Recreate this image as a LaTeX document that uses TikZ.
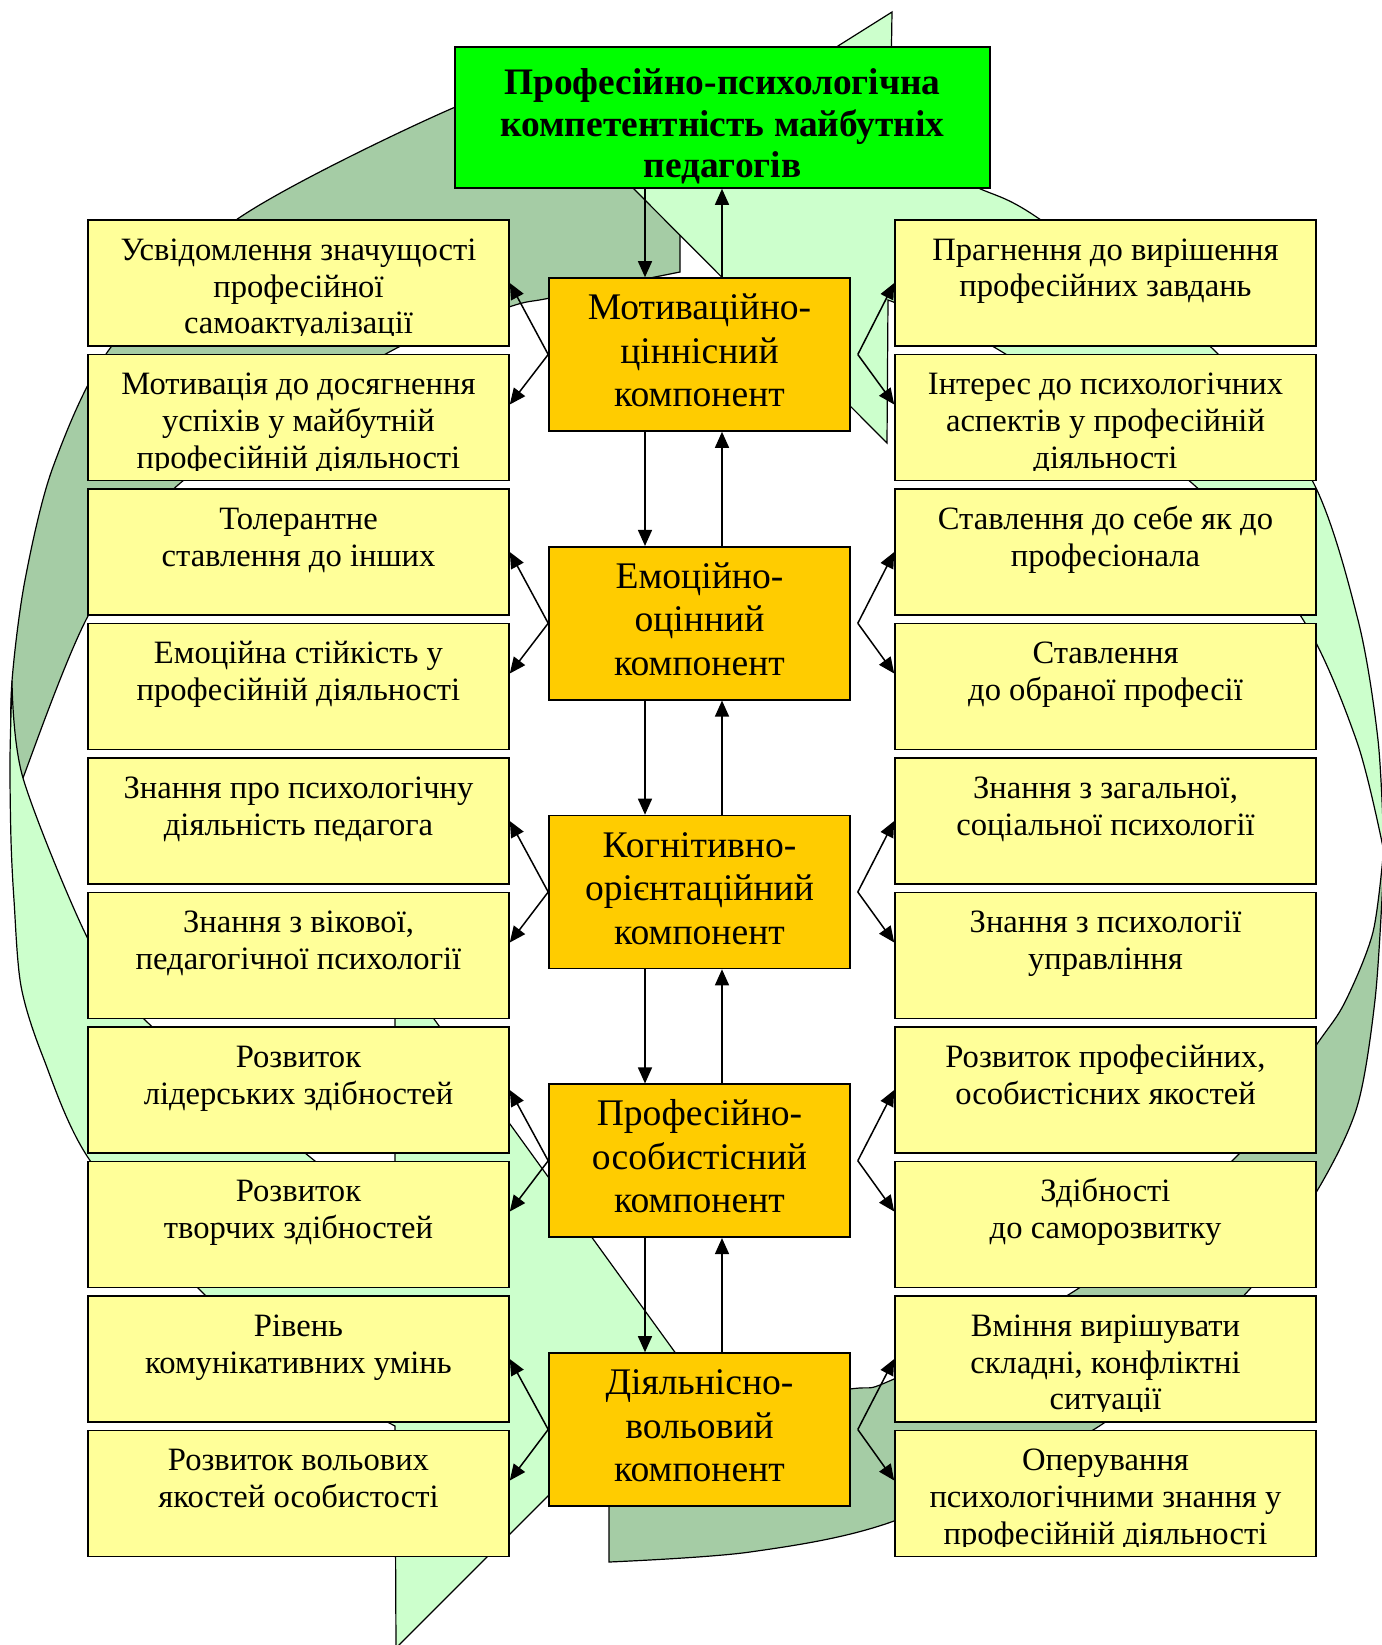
\documentclass[tikz,border=0pt]{standalone}
\usepackage{fontspec}
\setmainfont{Liberation Serif}
\usetikzlibrary{calc,arrows.meta}
\definecolor{ltg}{HTML}{CCFFCC}
\definecolor{dkg}{HTML}{A5CCA5}
\definecolor{topg}{HTML}{00FF00}
\definecolor{cbx}{HTML}{FFCC00}
\definecolor{sbx}{HTML}{FFFF99}
\tikzset{
 sidebox/.style={draw=black, line width=0.8pt, fill=sbx, minimum width=210.5pt, minimum height=63pt, inner sep=0pt},
 cenbox/.style={draw=black, line width=0.8pt, fill=cbx, minimum width=150.5pt, minimum height=76.5pt, inner sep=0pt, align=center, font=\fontsize{18.8}{21.75}\selectfont},
 topbox/.style={draw=black, line width=0.8pt, fill=topg, minimum width=267.5pt, minimum height=70.5pt, inner sep=0pt},
 sidetext/.style={inner sep=0pt, align=center, anchor=north, font=\fontsize{16.3}{18.35}\selectfont},
 toptext/.style={inner sep=0pt, align=center, font=\bfseries\fontsize{18.7}{20.75}\selectfont},
 conn/.style={line width=0.75pt, -{Triangle[length=8pt,width=7pt]}},
 bgdark/.style={fill=dkg, draw=black, line width=0.6pt},
 bglight/.style={fill=ltg, draw=black, line width=0.6pt},
}
\begin{document}
\begin{tikzpicture}[x=0.5pt, y=-0.5pt]
\useasboundingbox (0,0) rectangle (1382,1645);
% background curved arrows
\begin{scope}
\clip (0,0) rectangle (1382,1645);
\filldraw[bgdark] (680,68) -- plot[smooth] coordinates {(680,68) (560,80) (453,108) (236,220) (111,347) (53,467) (25,580) (12,681) (11,760) (14,812)}
  -- plot[smooth] coordinates {(14,812) (23,778) (88,616) (178,485) (393,350) (509,307) (550,298) (680,272)} -- cycle;
\filldraw[bglight] (12,681) -- plot[smooth] coordinates {(12,681) (10,760) (11,840) (14,900) (21,986) (43,1057) (89,1159) (200,1290) (300,1372) (395,1426)}
  -- (396,1648) -- (682,1362) -- (395,965) -- (395,1222)
  -- plot[smooth] coordinates {(395,1222) (310,1157) (145,1020) (88,939) (23,778) (12,681)} -- cycle;
\filldraw[bgdark] (1384,846) -- plot[smooth] coordinates {(1384,846) (1383,880) (1375,1000) (1357,1107) (1317,1191) (1249,1290) (1101,1425) (894,1521) (750,1552) (609,1562)}
  -- (609,1412) -- plot[smooth] coordinates {(609,1412) (700,1405) (850,1389) (894,1379) (1076,1290) (1237,1156) (1317,1044) (1345,1002) (1373,932) (1384,846)} -- cycle;
\filldraw[bglight] (892,12) -- (890,145) -- plot[smooth] coordinates {(890,145) (974,186) (1038,218) (1214,350) (1312,480) (1358,620) (1378,740) (1384,852)}
  -- plot[smooth] coordinates {(1384,852) (1357,742) (1302,618) (1193,484) (999,350) (888,300)} -- (887,443) -- (625,180) -- cycle;
\end{scope}
% top box
\node[topbox] (top) at (722.5,117.5) {};
\node[toptext] (toptx) at (722.5,128) {\strut Професійно-психологічна\\компетентність майбутніх\\педагогів\strut};
% centre boxes
\node[cenbox] (c0) at (699.5,354.5) {\strut Мотиваційно-\\ціннісний\\компонент\strut};
\node[cenbox] (c1) at (699.5,623.25) {\strut Емоційно-\\оцінний\\компонент\strut};
\node[cenbox] (c2) at (699.5,892) {\strut Когнітивно-\\орієнтаційний\\компонент\strut};
\node[cenbox] (c3) at (699.5,1160.75) {\strut Професійно-\\особистісний\\компонент\strut};
\node[cenbox] (c4) at (699.5,1429.5) {\strut Діяльнісно-\\вольовий\\компонент\strut};
% left boxes
\node[sidebox] (l0) at (298.5,283) {};
\node[sidebox] (l1) at (298.5,417.5) {};
\node[sidebox] (l2) at (298.5,552) {};
\node[sidebox] (l3) at (298.5,686.5) {};
\node[sidebox] (l4) at (298.5,821) {};
\node[sidebox] (l5) at (298.5,955.5) {};
\node[sidebox] (l6) at (298.5,1090) {};
\node[sidebox] (l7) at (298.5,1224.5) {};
\node[sidebox] (l8) at (298.5,1359) {};
\node[sidebox] (l9) at (298.5,1493.5) {};
% right boxes
\node[sidebox] (r0) at (1105.5,283) {};
\node[sidebox] (r1) at (1105.5,417.5) {};
\node[sidebox] (r2) at (1105.5,552) {};
\node[sidebox] (r3) at (1105.5,686.5) {};
\node[sidebox] (r4) at (1105.5,821) {};
\node[sidebox] (r5) at (1105.5,955.5) {};
\node[sidebox] (r6) at (1105.5,1090) {};
\node[sidebox] (r7) at (1105.5,1224.5) {};
\node[sidebox] (r8) at (1105.5,1359) {};
\node[sidebox] (r9) at (1105.5,1493.5) {};
% left texts
\begin{scope}
\clip (l0.north west) rectangle ($(l0.south east)+(0,-11)$);
\node[sidetext] (l0t) at ($(l0.north)+(0,15)$) {\strut Усвідомлення значущості\\професійної\\самоактуалізації\strut};
\end{scope}
\begin{scope}
\clip (l1.north west) rectangle ($(l1.south east)+(0,-11)$);
\node[sidetext] (l1t) at ($(l1.north)+(0,15)$) {\strut Мотивація до досягнення\\успіхів у майбутній\\професійній діяльності\strut};
\end{scope}
\node[sidetext] (l2t) at ($(l2.north)+(0,15)$) {\strut Толерантне\\ставлення до інших\strut};
\node[sidetext] (l3t) at ($(l3.north)+(0,15)$) {\strut Емоційна стійкість у\\професійній діяльності\strut};
\node[sidetext] (l4t) at ($(l4.north)+(0,15)$) {\strut Знання про психологічну\\діяльність педагога\strut};
\node[sidetext] (l5t) at ($(l5.north)+(0,15)$) {\strut Знання з вікової,\\педагогічної психології\strut};
\node[sidetext] (l6t) at ($(l6.north)+(0,15)$) {\strut Розвиток\\лідерських здібностей\strut};
\node[sidetext] (l7t) at ($(l7.north)+(0,15)$) {\strut Розвиток\\творчих здібностей\strut};
\node[sidetext] (l8t) at ($(l8.north)+(0,15)$) {\strut Рівень\\комунікативних умінь\strut};
\node[sidetext] (l9t) at ($(l9.north)+(0,15)$) {\strut Розвиток вольових\\якостей особистості\strut};
% right texts
\node[sidetext] (r0t) at ($(r0.north)+(0,15)$) {\strut Прагнення до вирішення\\професійних завдань\strut};
\begin{scope}
\clip (r1.north west) rectangle ($(r1.south east)+(0,-11)$);
\node[sidetext] (r1t) at ($(r1.north)+(0,15)$) {\strut Інтерес до психологічних\\аспектів у професійній\\діяльності\strut};
\end{scope}
\node[sidetext] (r2t) at ($(r2.north)+(0,15)$) {\strut Ставлення до себе як до\\професіонала\strut};
\node[sidetext] (r3t) at ($(r3.north)+(0,15)$) {\strut Ставлення\\до обраної професії\strut};
\node[sidetext] (r4t) at ($(r4.north)+(0,15)$) {\strut Знання з загальної,\\соціальної психології\strut};
\node[sidetext] (r5t) at ($(r5.north)+(0,15)$) {\strut Знання з психології\\управління\strut};
\node[sidetext] (r6t) at ($(r6.north)+(0,15)$) {\strut Розвиток професійних,\\особистісних якостей\strut};
\node[sidetext] (r7t) at ($(r7.north)+(0,15)$) {\strut Здібності\\до саморозвитку\strut};
\begin{scope}
\clip (r8.north west) rectangle ($(r8.south east)+(0,-11)$);
\node[sidetext] (r8t) at ($(r8.north)+(0,15)$) {\strut Вміння вирішувати\\складні, конфліктні\\ситуації\strut};
\end{scope}
\begin{scope}
\clip (r9.north west) rectangle ($(r9.south east)+(0,-11)$);
\node[sidetext] (r9t) at ($(r9.north)+(0,15)$) {\strut Оперування\\психологічними знання у\\професійній діяльності\strut};
\end{scope}
% vertical connectors
\coordinate (xd) at (645,0);
\coordinate (xu) at (722,0);
\draw[conn] (top.south -| xd) -- (c0.north -| xd);
\draw[conn] (c0.north -| xu) -- (top.south -| xu);
\foreach \k [evaluate=\k as \kn using int(\k+1)] in {0,...,3}{
  \draw[conn] (c\k.south -| xd) -- (c\kn.north -| xd);
  \draw[conn] (c\kn.north -| xu) -- (c\k.south -| xu);
}
% side connectors
\foreach \k [evaluate=\k as \ja using int(2*\k), evaluate=\k as \jb using int(2*\k+1)] in {0,...,4}{
  \draw[conn] (c\k.west) -- (l\ja.east);
  \draw[conn] (c\k.west) -- ($(l\jb.east)+(0,-13)$);
  \draw[conn] ($(c\k.east)+(7,0)$) -- (r\ja.west);
  \draw[conn] ($(c\k.east)+(7,0)$) -- ($(r\jb.west)+(0,-13)$);
}
\end{tikzpicture}
\end{document}
